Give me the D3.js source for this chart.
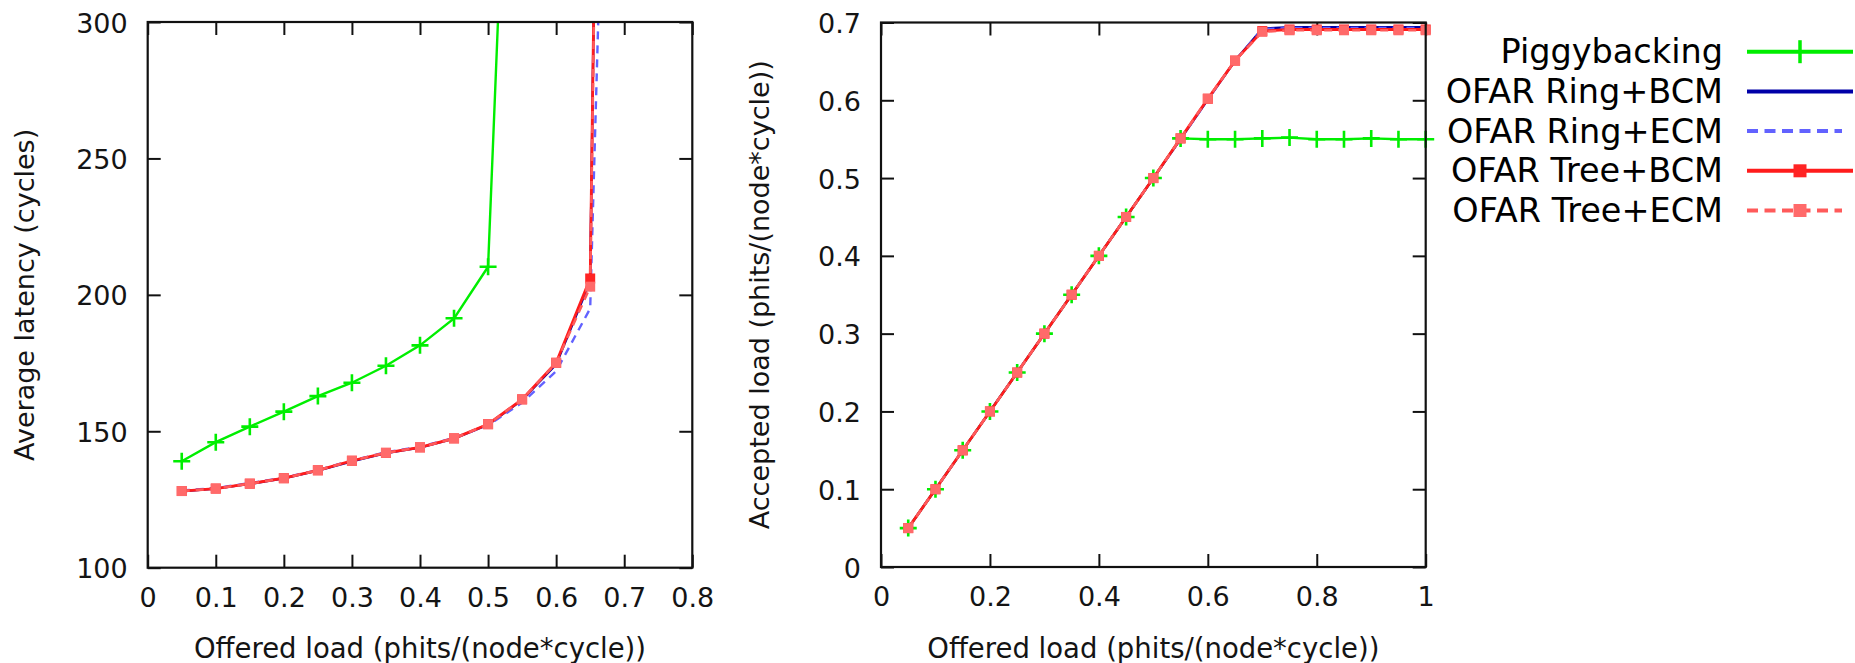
<!DOCTYPE html>
<html>
<head>
<meta charset="utf-8">
<script src="https://cdn.jsdelivr.net/npm/d3@7"></script>
<style>
  body { margin: 0; background: #fff; }
  svg { display: block; }
  text { font-family: "DejaVu Sans", sans-serif; }
</style>
</head>
<body>
<svg id="chart" width="1855" height="663"></svg>
<script>
// Offered load sample points (phits/(node*cycle))
const offeredLoad = [0.05, 0.1, 0.15, 0.2, 0.25, 0.3, 0.35, 0.4, 0.45, 0.5,
                     0.55, 0.6, 0.65, 0.7, 0.75, 0.8, 0.85, 0.9, 0.95, 1.0];

// Average latency (cycles); the last entry of each series is the saturated value past the plot top
const latencyPiggybacking = [139, 146, 151.7, 157.2, 162.9, 167.8, 174, 181.5, 191.4, 210.3, 520];
const latencyRingBCM = [128, 129, 130.7, 132.8, 135.6, 139, 142, 144, 147.3, 152.4, 161.5, 174.5, 205, 1150];
const latencyRingECM = [128.3, 129.2, 131, 133, 135.8, 139.3, 142.3, 144.3, 147.6, 152.2, 160.5, 172, 195, 640];
const latencyTreeBCM = [128.1, 129, 130.8, 132.8, 135.7, 139.2, 142.1, 144.1, 147.4, 152.6, 161.7, 175.1, 206, 1150];
const latencyTreeECM = [128.1, 129, 130.8, 132.8, 135.7, 139.2, 142.1, 144.1, 147.4, 152.6, 161.7, 175.1, 203, 1100];

// Accepted load (phits/(node*cycle))
const acceptedPiggybacking = [0.05, 0.1, 0.15, 0.2, 0.25, 0.3, 0.35, 0.4, 0.45, 0.5,
                              0.551, 0.55, 0.55, 0.551, 0.552, 0.55, 0.55, 0.551, 0.55, 0.55];
const acceptedRingBCM = [0.05, 0.1, 0.15, 0.2, 0.25, 0.3, 0.35, 0.4, 0.45, 0.5,
                         0.55, 0.601, 0.651, 0.692, 0.694, 0.694, 0.694, 0.694, 0.694, 0.694];
const acceptedRingECM = [0.05, 0.1, 0.15, 0.2, 0.25, 0.3, 0.35, 0.4, 0.45, 0.5,
                         0.55, 0.601, 0.651, 0.691, 0.693, 0.693, 0.693, 0.693, 0.693, 0.693];
const acceptedTreeBCM = [0.05, 0.1, 0.15, 0.2, 0.25, 0.3, 0.35, 0.4, 0.45, 0.5,
                         0.551, 0.602, 0.651, 0.689, 0.691, 0.691, 0.691, 0.691, 0.691, 0.691];
const acceptedTreeECM = [0.05, 0.1, 0.15, 0.2, 0.25, 0.3, 0.35, 0.4, 0.45, 0.5,
                         0.551, 0.602, 0.651, 0.688, 0.69, 0.69, 0.69, 0.69, 0.69, 0.69];

// Series labels and tick values
const seriesNames = ["Piggybacking", "OFAR Ring+BCM", "OFAR Ring+ECM", "OFAR Tree+BCM", "OFAR Tree+ECM"];
const latencyTicks = [100, 150, 200, 250, 300];
const leftLoadTicks = [0, 0.1, 0.2, 0.3, 0.4, 0.5, 0.6, 0.7, 0.8];
const acceptedTicks = [0, 0.1, 0.2, 0.3, 0.4, 0.5, 0.6, 0.7];
const rightLoadTicks = [0, 0.2, 0.4, 0.6, 0.8, 1];

// Visual style per series (same order as seriesNames)
const styles = [
  { color: "#00ee00", width: 2.4, dash: null, marker: "plus", markerColor: "#00ee00" },
  { color: "#0000a8", width: 2.4, dash: null, marker: null },
  { color: "#6262ff", width: 2.4, dash: "8,6", marker: null },
  { color: "#ff1c1c", width: 2.8, dash: null, marker: "square", markerColor: "#ff2424" },
  { color: "#ff5a5a", width: 2.6, dash: "8,6", marker: "square", markerColor: "#ff6a6a" }
];

const svg = d3.select("#chart");
const textColor = "#141414";

function pairs(ys) {
  return ys.map((y, i) => [offeredLoad[i], y]);
}

function drawPanel(cfg) {
  const { id, left, right, top, bottom, xDomain, yDomain, xTicks, yTicks, series, xTitle, yTitle, yTitleX } = cfg;
  const x = d3.scaleLinear().domain(xDomain).range([left, right]);
  const y = d3.scaleLinear().domain(yDomain).range([bottom, top]);
  const g = svg.append("g");

  g.append("clipPath").attr("id", id)
    .append("rect").attr("x", left).attr("y", top)
    .attr("width", right - left).attr("height", bottom - top);

  const tickLen = 13;
  const fmt = d => String(d);

  // bottom axis with labels, ticks pointing inward
  const ax = g.append("g").attr("transform", `translate(0,${bottom})`)
    .call(d3.axisBottom(x).tickValues(xTicks).tickSizeInner(-tickLen).tickSizeOuter(0).tickPadding(20).tickFormat(fmt));
  // top mirror ticks
  const axT = g.append("g").attr("transform", `translate(0,${top})`)
    .call(d3.axisTop(x).tickValues(xTicks).tickSizeInner(-tickLen).tickSizeOuter(0).tickFormat(""));
  // left axis with labels
  const ay = g.append("g").attr("transform", `translate(${left},0)`)
    .call(d3.axisLeft(y).tickValues(yTicks).tickSizeInner(-tickLen).tickSizeOuter(0).tickPadding(20).tickFormat(fmt));
  // right mirror ticks
  const ayR = g.append("g").attr("transform", `translate(${right},0)`)
    .call(d3.axisRight(y).tickValues(yTicks).tickSizeInner(-tickLen).tickSizeOuter(0).tickFormat(""));

  [ax, axT, ay, ayR].forEach(a => {
    a.select(".domain").remove();
    a.selectAll("line").attr("stroke", "#111").attr("stroke-width", 2);
    a.selectAll("text").attr("fill", textColor).style("font-size", "27px")
      .style("font-family", "'DejaVu Sans', sans-serif");
  });
  ay.selectAll("text").attr("dy", "0.37em");

  // series lines and markers
  const line = d3.line().x(d => x(d[0])).y(d => y(d[1]));
  const plotG = g.append("g");
  series.forEach((pts, i) => {
    const st = styles[i];
    plotG.append("path")
      .attr("d", line(pts))
      .attr("fill", "none")
      .attr("stroke", st.color)
      .attr("stroke-width", st.width)
      .attr("stroke-dasharray", st.dash)
      .attr("clip-path", `url(#${id})`);
  });
  series.forEach((pts, i) => {
    const st = styles[i];
    if (!st.marker) return;
    const inside = pts.filter(d => d[1] >= yDomain[0] && d[1] <= yDomain[1] && d[0] <= xDomain[1]);
    if (st.marker === "plus") {
      plotG.selectAll(null).data(inside).enter().append("path")
        .attr("d", d => `M${x(d[0]) - 8.5},${y(d[1])}h17M${x(d[0])},${y(d[1]) - 8.5}v17`)
        .attr("stroke", st.markerColor).attr("stroke-width", 2.6).attr("fill", "none");
    } else {
      plotG.selectAll(null).data(inside).enter().append("rect")
        .attr("x", d => x(d[0]) - 5).attr("y", d => y(d[1]) - 5)
        .attr("width", 10).attr("height", 10)
        .attr("fill", st.markerColor);
    }
  });

  // frame
  g.append("rect").attr("x", left).attr("y", top)
    .attr("width", right - left).attr("height", bottom - top)
    .attr("fill", "none").attr("stroke", "#111").attr("stroke-width", 2.2);

  // axis titles
  g.append("text").attr("x", (left + right) / 2).attr("y", 658)
    .attr("text-anchor", "middle").attr("fill", textColor).style("font-size", "27.5px")
    .text(xTitle);
  g.append("text")
    .attr("transform", `translate(${yTitleX},${(top + bottom) / 2}) rotate(-90)`)
    .attr("text-anchor", "middle").attr("fill", textColor).style("font-size", "27px")
    .text(yTitle);
}

drawPanel({
  id: "clipLatency",
  left: 147.7, right: 692.3, top: 22, bottom: 567.7,
  xDomain: [0, 0.8], yDomain: [100, 300],
  xTicks: leftLoadTicks, yTicks: latencyTicks,
  series: [latencyPiggybacking, latencyRingBCM, latencyRingECM, latencyTreeBCM, latencyTreeECM].map(pairs),
  xTitle: "Offered load (phits/(node*cycle))",
  yTitle: "Average latency (cycles)",
  yTitleX: 34
});

drawPanel({
  id: "clipAccepted",
  left: 881, right: 1425.7, top: 22.5, bottom: 567,
  xDomain: [0, 1], yDomain: [0, 0.7],
  xTicks: rightLoadTicks, yTicks: acceptedTicks,
  series: [acceptedPiggybacking, acceptedRingBCM, acceptedRingECM, acceptedTreeBCM, acceptedTreeECM].map(pairs),
  xTitle: "Offered load (phits/(node*cycle))",
  yTitle: "Accepted load (phits/(node*cycle))",
  yTitleX: 769
});

// legend
const legend = svg.append("g");
seriesNames.forEach((name, i) => {
  const st = styles[i];
  const base = 63.3 + i * 39.7;
  const cy = base - 11.6;
  legend.append("text").attr("x", 1723).attr("y", base)
    .attr("text-anchor", "end").attr("fill", "#000").style("font-size", "33.5px")
    .text(name);
  legend.append("line")
    .attr("x1", 1747).attr("x2", st.dash ? 1842 : 1853)
    .attr("y1", cy).attr("y2", cy)
    .attr("stroke", st.color).attr("stroke-width", 4)
    .attr("stroke-dasharray", st.dash ? "11,6.5" : null);
  if (st.marker === "plus") {
    legend.append("path")
      .attr("d", `M1800,${cy - 11.5}v23`)
      .attr("stroke", st.markerColor).attr("stroke-width", 3.5);
  } else if (st.marker === "square") {
    legend.append("rect").attr("x", 1793.5).attr("y", cy - 6.5)
      .attr("width", 13).attr("height", 13).attr("fill", st.markerColor);
  }
});
</script>
</body>
</html>
